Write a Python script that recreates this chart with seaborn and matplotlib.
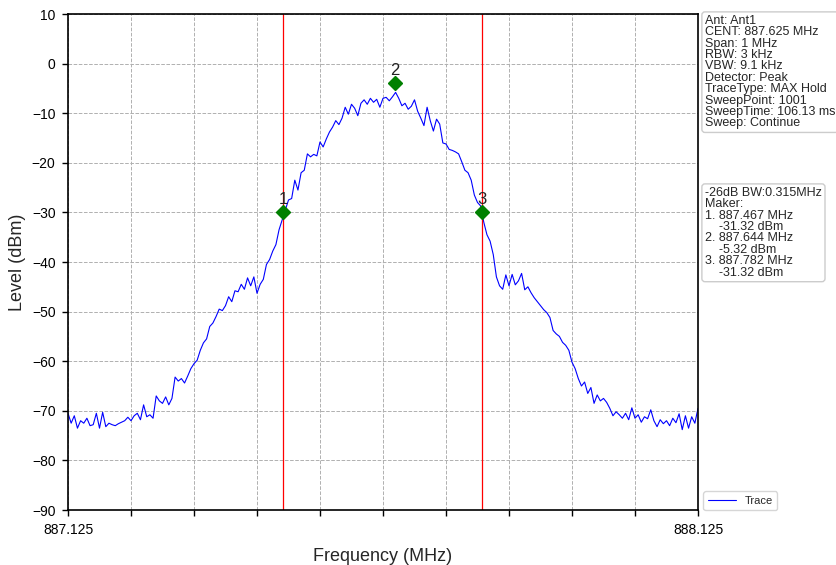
import numpy as np
import pandas as pd
import matplotlib
matplotlib.use("Agg")
import matplotlib.pyplot as plt
import seaborn as sns

# ---- data ----
f_start = 887.125
f_stop = 888.125
f_step = 0.005
trace_level = [
    -70.5, -72.5, -71.0, -73.5, -72.0, -72.5, -71.5, -73.0, -72.8, -70.5,
    -73.5, -70.3, -73.2, -72.5, -72.8, -73.0, -72.6, -72.3, -72.0, -71.3,
    -72.0, -71.0, -70.5, -71.8, -68.8, -71.2, -70.8, -71.5, -67.0, -68.0,
    -68.5, -67.2, -68.8, -67.5, -63.2, -64.0, -63.5, -64.4, -63.0, -61.5,
    -60.5, -59.8, -57.8, -56.3, -55.5, -53.0, -52.3, -51.0, -49.5, -49.8,
    -48.8, -47.0, -48.0, -45.8, -46.0, -44.5, -45.5, -43.2, -44.8, -43.0,
    -46.3, -44.5, -43.5, -40.5, -39.5, -37.8, -36.5, -33.5, -31.5, -29.5,
    -27.5, -27.2, -23.5, -25.5, -22.0, -21.5, -18.2, -18.8, -18.3, -18.6,
    -15.8, -16.8, -15.2, -13.8, -12.8, -11.5, -12.3, -11.0, -8.8, -10.2,
    -8.2, -9.0, -10.5, -8.0, -7.3, -8.2, -7.0, -7.8, -7.2, -8.8,
    -7.0, -6.8, -7.5, -6.7, -5.8, -7.0, -8.5, -8.0, -9.2, -8.6,
    -7.3, -9.6, -11.0, -12.5, -8.8, -11.5, -13.6, -11.2, -12.2, -16.0,
    -16.2, -17.3, -17.5, -17.8, -18.2, -19.8, -21.5, -22.0, -23.5, -26.5,
    -28.0, -28.7, -32.0, -34.5, -35.8, -38.5, -43.0, -44.8, -45.5, -42.6,
    -44.8, -42.5, -44.6, -43.8, -42.3, -45.6, -45.0, -46.2, -47.2, -48.0,
    -48.8, -49.6, -50.2, -51.2, -53.8, -54.5, -55.0, -56.2, -56.8, -57.8,
    -60.2, -61.5, -63.5, -65.0, -64.2, -66.5, -65.3, -68.5, -66.8, -68.0,
    -67.5, -68.3, -69.5, -71.0, -70.2, -70.8, -71.5, -70.5, -71.8, -69.4,
    -71.5, -70.8, -72.3, -71.2, -71.6, -69.8, -72.0, -73.2, -71.8, -72.6,
    -72.0, -73.0, -71.5, -72.4, -70.6, -73.8, -71.0, -73.5, -71.2, -72.5,
    -69.5,
]
marker_labels = ["1", "2", "3"]
marker_freq = [887.467, 887.644, 887.782]
marker_level = [-30.0, -4.0, -30.0]
red_lines = [887.467, 887.782]

info_lines = [
    "Ant: Ant1",
    "CENT: 887.625 MHz",
    "Span: 1 MHz",
    "RBW: 3 kHz",
    "VBW: 9.1 kHz",
    "Detector: Peak",
    "TraceType: MAX Hold",
    "SweepPoint: 1001",
    "SweepTime: 106.13 ms",
    "Sweep: Continue",
]
marker_lines = [
    "-26dB BW:0.315MHz",
    "Maker:",
    "1. 887.467 MHz",
    "    -31.32 dBm",
    "2. 887.644 MHz",
    "    -5.32 dBm",
    "3. 887.782 MHz",
    "    -31.32 dBm",
]

freq = f_start + f_step * np.arange(len(trace_level))
df = pd.DataFrame({"Frequency": freq, "Level": trace_level})

sns.set_theme(style="ticks")
plt.rcParams["font.family"] = ["Liberation Sans", "DejaVu Sans"]

fig = plt.figure(figsize=(8.36, 5.65), dpi=100)
ax = fig.add_axes([68 / 836, 55 / 565, 630 / 836, 496 / 565])

sns.lineplot(data=df, x="Frequency", y="Level", ax=ax, color="blue",
             linewidth=0.8, label="Trace")

for x in red_lines:
    ax.axvline(x, color="red", linewidth=0.9)

ax.plot(marker_freq, marker_level, linestyle="none", marker="D",
        color="green", markersize=7.5)
for lab, x, y in zip(marker_labels, marker_freq, marker_level):
    ax.annotate(lab, (x, y), xytext=(0, 4), textcoords="offset points",
                ha="center", va="bottom", fontsize=12, color="#222222")

ax.set_xlim(f_start, f_stop)
ax.set_ylim(-90, 10)
xt = np.linspace(f_start, f_stop, 11)
ax.set_xticks(xt)
ax.set_xticklabels([f"{f_start:.3f}"] + [""] * 9 + [f"{f_stop:.3f}"])
ax.set_yticks(np.arange(-90, 11, 10))
ax.tick_params(axis="both", labelsize=10, colors="black", direction="out",
               length=4, width=1, pad=5)
ax.grid(True, linestyle="--", color="#b0b0b0", linewidth=0.7)
for s in ax.spines.values():
    s.set_visible(True)
    s.set_color("black")
    s.set_linewidth(1.2)
ax.set_xlabel("Frequency (MHz)", fontsize=13, labelpad=8)
ax.set_ylabel("Level (dBm)", fontsize=13)

box = dict(boxstyle="round,pad=0.25", facecolor="white", edgecolor="#cccccc",
           linewidth=1)
fig.text(705 / 836, 1 - 15 / 565, "\n".join(info_lines), ha="left", va="top",
         fontsize=9, linespacing=0.93, bbox=box)
fig.text(705 / 836, 1 - 187 / 565, "\n".join(marker_lines), ha="left",
         va="top", fontsize=9, linespacing=0.93, bbox=box)

ax.legend(loc="lower left", bbox_to_anchor=(1.005, -0.005), fontsize=8,
          frameon=True, handlelength=2.5, borderaxespad=0.2)

fig.savefig("out.png", dpi=100)
